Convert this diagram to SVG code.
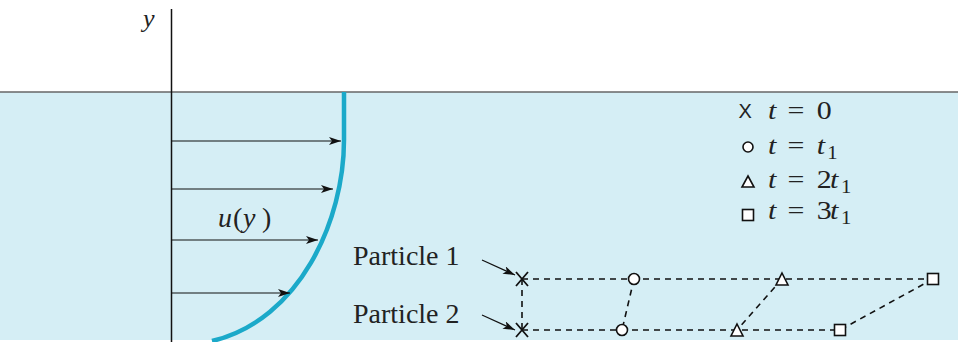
<svg xmlns="http://www.w3.org/2000/svg" width="966" height="342" viewBox="0 0 966 342">
<style>
.t{font-family:"Liberation Serif","Times New Roman",serif;font-size:28px;fill:#222}
.l{font-size:26px}
.i{font-style:italic}
.s{font-size:18px}
.ax{stroke:#111;stroke-width:1.5;fill:none}
.vel{stroke:#111;stroke-width:1.2;fill:none}
.dash{stroke:#111;stroke-width:1.6;fill:none;stroke-dasharray:6 5}
.mk{stroke:#111;stroke-width:1.6;fill:#fff}
.xm{stroke:#111;stroke-width:1.8;fill:none}
</style>
<defs>
<marker id="ah" viewBox="0 0 12 8" refX="12" refY="4" markerWidth="12" markerHeight="8" markerUnits="userSpaceOnUse" orient="auto">
<path d="M0,0 L12,4 L0,8 L3,4 Z" fill="#111"/>
</marker>
</defs>
<rect x="0" y="92" width="958" height="248" fill="#D5EEF5"/>
<line x1="0" y1="92" x2="958" y2="92" stroke="#666" stroke-width="1.5"/>
<g id="axis">
<line class="ax" x1="171.5" y1="9" x2="171.5" y2="342"/>
<text class="t i" x="143" y="27" style="font-size:26px">y</text>
</g>
<g id="profile">
<path d="M344,92 V140 C344,220 300,320 212,341" stroke="#1BA9C9" stroke-width="4.5" fill="none"/>
</g>
<g id="connectors">
<line class="vel" x1="171.5" y1="141" x2="341" y2="141" marker-end="url(#ah)"/>
<line class="vel" x1="171.5" y1="189" x2="333" y2="189" marker-end="url(#ah)"/>
<line class="vel" x1="171.5" y1="240" x2="318" y2="240" marker-end="url(#ah)"/>
<line class="vel" x1="171.5" y1="293" x2="290" y2="293" marker-end="url(#ah)"/>
<line class="vel" x1="482" y1="260" x2="515" y2="275" marker-end="url(#ah)"/>
<line class="vel" x1="482" y1="315" x2="515" y2="330" marker-end="url(#ah)"/>
<line class="dash" x1="522" y1="279" x2="933" y2="279"/>
<line class="dash" x1="522" y1="330" x2="840" y2="330"/>
<line class="dash" x1="522" y1="279" x2="522" y2="330"/>
<line class="dash" x1="634" y1="279" x2="622" y2="330"/>
<line class="dash" x1="782" y1="279" x2="737" y2="330"/>
<line class="dash" x1="933" y1="279" x2="840" y2="330"/>
</g>
<g id="label-u">
<text class="t" y="227"><tspan class="i" x="218">u</tspan><tspan x="233">(</tspan><tspan class="i" x="243">y</tspan><tspan x="262">)</tspan></text>
</g>
<g id="particle1">
<text class="t" x="353" y="265">Particle 1</text>
<path class="xm" d="M516,272 L528,286 M528,272 L516,286"/>
<circle class="mk" cx="634" cy="279" r="5.5"/>
<path class="mk" d="M782,273 L788,285 L776,285 Z"/>
<rect class="mk" x="927.5" y="273.5" width="11" height="11"/>
</g>
<g id="particle2">
<text class="t" x="353" y="323">Particle 2</text>
<path class="xm" d="M516,323 L528,337 M528,323 L516,337"/>
<circle class="mk" cx="622" cy="330" r="5.5"/>
<path class="mk" d="M737,324 L743,336 L731,336 Z"/>
<rect class="mk" x="834.5" y="324.5" width="11" height="11"/>
</g>
<g id="legend">
<text x="738.5" y="118" style="font-family:'Liberation Sans',Arial,sans-serif;font-size:20px;fill:#222">X</text>
<g transform="translate(768,119) scale(1.15,1)"><text class="t l" y="0"><tspan class="i" x="0">t</tspan><tspan x="17">=</tspan><tspan x="42.5">0</tspan></text></g>
<circle class="mk" cx="748" cy="147" r="5"/>
<g transform="translate(768,154) scale(1.15,1)"><text class="t l" y="0"><tspan class="i" x="0">t</tspan><tspan x="17">=</tspan><tspan class="i" x="42.5">t</tspan><tspan class="s" x="51.5" dy="5">1</tspan></text></g>
<path class="mk" d="M748,176 L754,187 L742,187 Z"/>
<g transform="translate(768,188) scale(1.15,1)"><text class="t l" y="0"><tspan class="i" x="0">t</tspan><tspan x="17">=</tspan><tspan x="42.5">2</tspan><tspan class="i" x="54">t</tspan><tspan class="s" x="63.5" dy="5">1</tspan></text></g>
<rect class="mk" x="742.5" y="209.5" width="11" height="11"/>
<g transform="translate(768,219) scale(1.15,1)"><text class="t l" y="0"><tspan class="i" x="0">t</tspan><tspan x="17">=</tspan><tspan x="42.5">3</tspan><tspan class="i" x="54">t</tspan><tspan class="s" x="63.5" dy="5">1</tspan></text></g>
</g>
</svg>
